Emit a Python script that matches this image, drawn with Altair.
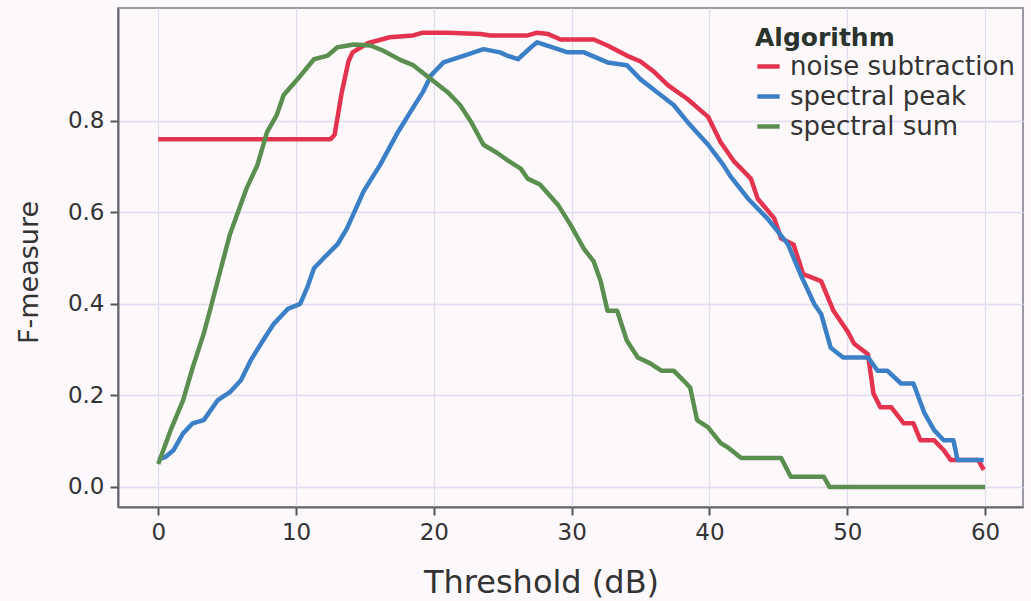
import altair as alt
import pandas as pd

# noise subtraction
ns_x = [0, 12.5, 12.8, 13.3, 13.8, 14.1, 15.2, 16.8, 18.5, 19.2, 21, 23.4, 24.1, 26.8, 27.5, 28.3,
        29.2, 31.6, 32.6, 34, 35, 36, 37, 38.4, 39.9, 40.8, 41.8, 43, 43.5, 44.7, 45.2, 46.1,
        46.8, 48.1, 49, 50, 50.5, 51.5, 51.9, 52.4, 53.2, 54.1, 54.8, 55.3, 56.3, 57, 57.5,
        59.5, 59.9]
ns_y = [0.76, 0.76, 0.77, 0.86, 0.93, 0.95, 0.97, 0.983, 0.987, 0.993, 0.993, 0.99, 0.987, 0.987,
        0.993, 0.99, 0.978, 0.978, 0.965, 0.943, 0.93, 0.907, 0.878, 0.848, 0.809, 0.754, 0.711,
        0.674, 0.63, 0.587, 0.543, 0.53, 0.465, 0.45, 0.385, 0.341, 0.313, 0.29, 0.204, 0.174,
        0.174, 0.139, 0.139, 0.102, 0.102, 0.08, 0.059, 0.059, 0.037]

# spectral peak
sp_x = [0, 0.5, 1.1, 1.8, 2.5, 3.3, 4.3, 5.2, 6, 6.7, 7.6, 8.4, 9.4, 10.3, 10.8, 11.3, 12, 13,
        13.7, 14.9, 16.1, 17.4, 18.3, 19.2, 19.8, 20.7, 22.2, 23.6, 24.8, 25.3, 26.1, 27, 27.5,
        29, 29.7, 30.9, 32.6, 34, 35, 36.2, 37.4, 38.4, 39.9, 41, 41.5, 42.8, 44.2, 45.7, 46.6,
        47.6, 48.1, 48.8, 49.7, 51.5, 52.2, 52.9, 53.9, 54.8, 55.6, 56.3, 57, 57.7, 58, 59.9]
sp_y = [0.06, 0.065, 0.08, 0.117, 0.139, 0.146, 0.189, 0.207, 0.233, 0.276, 0.32, 0.357, 0.389,
        0.4, 0.435, 0.478, 0.5, 0.53, 0.565, 0.646, 0.704, 0.776, 0.82, 0.863, 0.9, 0.928, 0.943,
        0.957, 0.95, 0.943, 0.935, 0.96, 0.972, 0.957, 0.95, 0.95, 0.928, 0.922, 0.891, 0.863,
        0.835, 0.798, 0.748, 0.704, 0.68, 0.63, 0.587, 0.53, 0.465, 0.4, 0.378, 0.304, 0.283,
        0.283, 0.254, 0.254, 0.226, 0.226, 0.161, 0.124, 0.102, 0.102, 0.059, 0.059]

# spectral sum
ss_x = [0, 0.9, 1.8, 2.5, 3.3, 3.8, 4.5, 5.2, 6.4, 7.2, 7.9, 8.6, 9.1, 10.1, 11.3, 12.3, 13, 14.2,
        15.4, 16.3, 17.6, 18.5, 19.8, 21, 21.9, 22.7, 23.6, 24.6, 25.5, 26.3, 26.8, 27.7, 29,
        29.9, 30.9, 31.6, 32.1, 32.6, 33.3, 34, 34.8, 35.7, 36.5, 37.4, 38.1, 38.6, 39.1, 39.9,
        40.8, 41.3, 42.3, 45.2, 45.9, 48.3, 48.7, 60]
ss_y = [0.05, 0.124, 0.189, 0.261, 0.335, 0.391, 0.472, 0.552, 0.652, 0.704, 0.776, 0.813, 0.857,
        0.891, 0.935, 0.943, 0.961, 0.967, 0.965, 0.954, 0.933, 0.922, 0.891, 0.863, 0.835, 0.798,
        0.748, 0.73, 0.711, 0.696, 0.674, 0.661, 0.617, 0.574, 0.52, 0.493, 0.45, 0.385, 0.385,
        0.32, 0.283, 0.27, 0.254, 0.254, 0.233, 0.217, 0.146, 0.13, 0.096, 0.087, 0.063, 0.063,
        0.022, 0.022, 0.0, 0.0]

series = ["noise subtraction", "spectral peak", "spectral sum"]
colors = ["#e3334f", "#3b7fc6", "#5b8f50"]
x_ticks = [0, 10, 20, 30, 40, 50, 60]
y_ticks = [0.0, 0.2, 0.4, 0.6, 0.8]

rows = []
for name, xs, ys in zip(series, [ns_x, sp_x, ss_x], [ns_y, sp_y, ss_y]):
    for i, (a, b) in enumerate(zip(xs, ys)):
        rows.append({"Threshold": a, "F": b, "Algorithm": name, "order": i})
df = pd.DataFrame(rows)

FONT = "DejaVu Sans"

chart = alt.Chart(df).mark_line(strokeWidth=4.5, strokeJoin="round").encode(
    x=alt.X("Threshold:Q",
            scale=alt.Scale(domain=[-2.92, 62.75], nice=False, zero=False),
            axis=alt.Axis(values=x_ticks, format="d", title="Threshold (dB)",
                          titleFontSize=32,
                          titleX=423, titleY=85, titleAlign="center", titleBaseline="alphabetic")),
    y=alt.Y("F:Q",
            scale=alt.Scale(domain=[-0.044, 1.047], nice=False, zero=False),
            axis=alt.Axis(values=y_ticks, format=".1f", title="F-measure",
                          titleFontSize=27,
                          titleX=-89, titleY=264, titleAngle=270, titleAlign="center",
                          titleBaseline="middle")),
    color=alt.Color("Algorithm:N",
                    scale=alt.Scale(domain=series, range=colors),
                    legend=alt.Legend(orient="none", legendX=637, legendY=18,
                                      symbolType="stroke", symbolStrokeWidth=4.5,
                                      symbolSize=500, labelFontSize=26, titleFontSize=25,
                                      titleFontWeight="bold", titleColor="#2a332c",
                                      labelColor="#333333", labelFont=FONT, titleFont=FONT,
                                      labelLimit=400, rowPadding=3, labelOffset=8,
                                      titlePadding=2)),
    order="order:Q",
).properties(
    width=905, height=499,
    autosize=alt.AutoSizeParams(type="none"),
    padding={"left": 118, "top": 8, "right": 8, "bottom": 94},
    background="#fdf8fb",
).configure_view(
    stroke="#9a98a2", strokeWidth=2, fill="#fdf9fb"
).configure_axis(
    labelFont=FONT, titleFont=FONT, labelFontSize=23,
    titleFontWeight="normal", labelColor="#333333", titleColor="#333333",
    domainColor="#666670", domainWidth=2, tickColor="#555560", tickWidth=2, tickSize=8,
    gridColor="#e0dcee", gridWidth=1.3, labelPadding=6,
)

chart.save("out.html", embed_options={"renderer": "svg", "actions": False})
